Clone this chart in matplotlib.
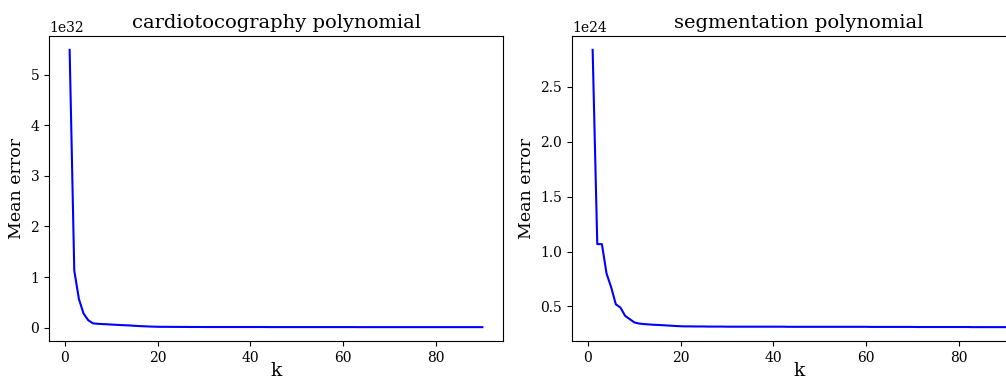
import matplotlib
matplotlib.use("Agg")
import matplotlib.pyplot as plt
import numpy as np

plt.rcParams['font.family'] = 'DejaVu Serif'

k = list(range(1, 91))

# mean error, cardiotocography (units of 1e32)
cardio_err = [
    5.49, 1.127, 0.565, 0.278, 0.147, 0.085, 0.075, 0.070, 0.066, 0.060,
    0.055, 0.050, 0.046, 0.042, 0.035, 0.030, 0.026, 0.022, 0.019, 0.016,
    0.015, 0.015, 0.014, 0.014, 0.013, 0.013, 0.012, 0.012, 0.012, 0.011,
    0.011, 0.011, 0.011, 0.011, 0.011, 0.011, 0.011, 0.011, 0.011, 0.011,
    0.011, 0.011, 0.011, 0.010, 0.010, 0.010, 0.010, 0.010, 0.010, 0.010,
    0.010, 0.010, 0.010, 0.010, 0.010, 0.010, 0.010, 0.010, 0.010, 0.010,
    0.010, 0.010, 0.009, 0.009, 0.009, 0.009, 0.009, 0.009, 0.009, 0.009,
    0.009, 0.009, 0.009, 0.009, 0.009, 0.009, 0.009, 0.009, 0.009, 0.009,
    0.009, 0.009, 0.009, 0.009, 0.009, 0.009, 0.009, 0.009, 0.009, 0.009,
]

# mean error, segmentation (units of 1e24)
segment_err = [
    2.837, 1.068, 1.068, 0.800, 0.675, 0.520, 0.490, 0.415, 0.385, 0.355,
    0.345, 0.340, 0.337, 0.334, 0.332, 0.330, 0.327, 0.325, 0.322, 0.320,
    0.319, 0.319, 0.318, 0.318, 0.318, 0.317, 0.317, 0.317, 0.317, 0.316,
    0.316, 0.316, 0.316, 0.316, 0.316, 0.316, 0.316, 0.316, 0.316, 0.316,
    0.316, 0.316, 0.315, 0.315, 0.315, 0.315, 0.315, 0.315, 0.315, 0.315,
    0.315, 0.315, 0.315, 0.315, 0.315, 0.315, 0.315, 0.315, 0.315, 0.315,
    0.314, 0.314, 0.314, 0.314, 0.314, 0.314, 0.314, 0.314, 0.314, 0.314,
    0.313, 0.313, 0.313, 0.313, 0.313, 0.313, 0.313, 0.313, 0.313, 0.313,
    0.313, 0.313, 0.312, 0.312, 0.312, 0.312, 0.312, 0.312, 0.312, 0.312,
]

titles = ['cardiotocography polynomial', 'segmentation polynomial']
series = [np.array(cardio_err) * 1e32, np.array(segment_err) * 1e24]

W, H = 1006, 381
fig = plt.figure(figsize=(W / 100, H / 100), dpi=100)

# axes boxes in pixels: left, bottom(from top), width, height
boxes = [(49, 341, 454, 305), (572, 341, 454, 305)]

for (x0, ybot, w, h), title, vals in zip(boxes, titles, series):
    ax = fig.add_axes([x0 / W, (H - ybot) / H, w / W, h / H])
    ax.plot(k, vals, color='blue', linewidth=1.5)
    ax.set_title(title, fontsize=14)
    ax.set_xlabel('k', fontsize=13.5, labelpad=-2.5)
    ax.set_ylabel('Mean error', fontsize=12.5)
    ax.tick_params(labelsize=10)
    ax.tick_params(axis='x', pad=4)
    ax.yaxis.get_offset_text().set_fontsize(10)

fig.savefig('out.png', dpi=100)
